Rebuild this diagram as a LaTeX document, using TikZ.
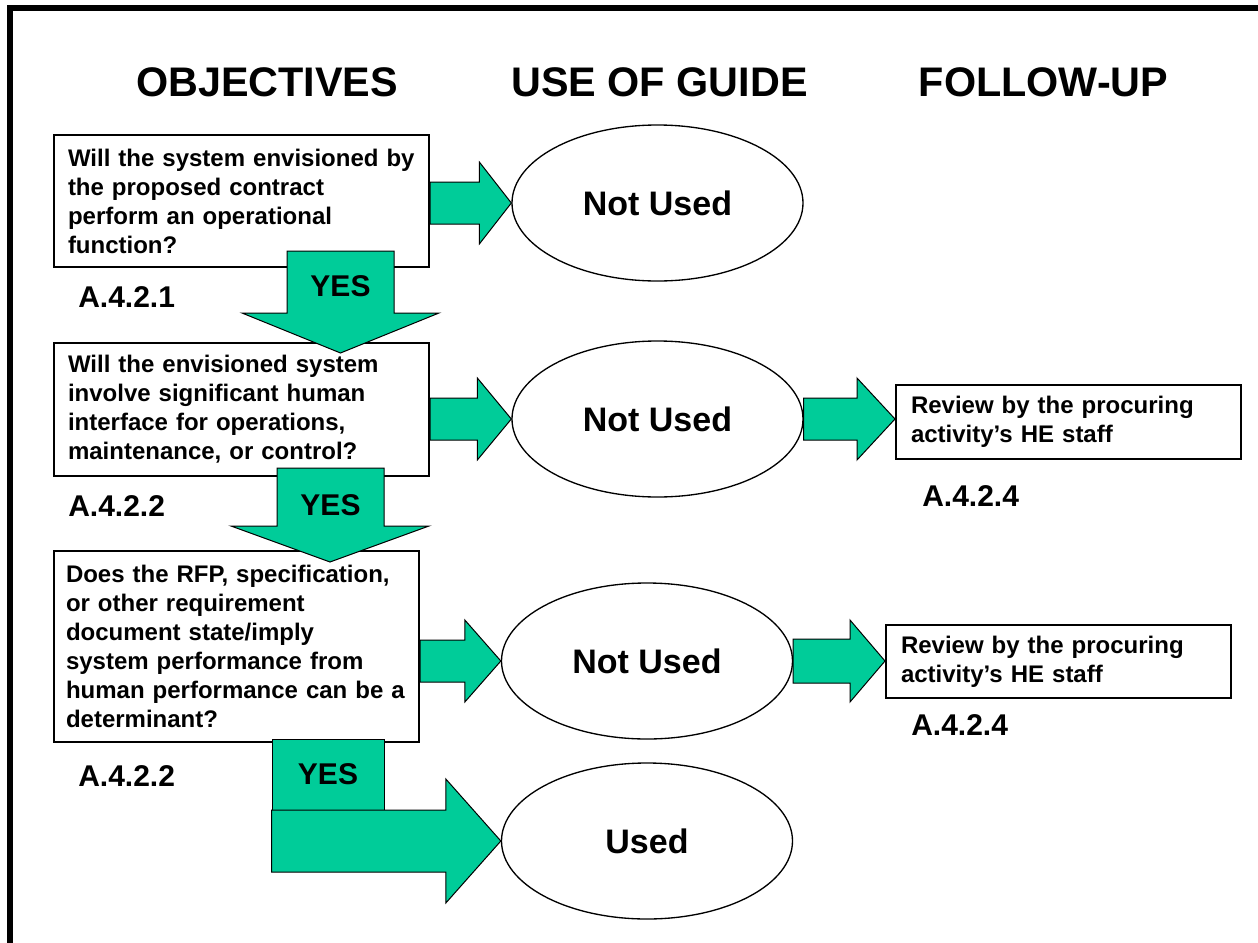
\documentclass[tikz,border=0pt]{standalone}
\usepackage{fontspec}
\setmainfont{Liberation Sans}
\usepackage{tikz}
\usetikzlibrary{calc,shapes.geometric}
\definecolor{ink}{HTML}{000000}
\definecolor{arrowgreen}{HTML}{00CC99}

\tikzset{
  qbox/.style={draw=ink,line width=1.5pt,fill=white,inner xsep=10.5pt,inner ysep=0pt,
               align=left,font=\fontsize{18}{21.75}\selectfont\bfseries},
  reviewbox/.style={qbox,inner xsep=11.25pt,minimum width=258.75pt,text width=236.25pt},
  usebox/.style={ellipse,draw=ink,line width=1pt,fill=white,inner sep=0pt,
                 minimum width=218.25pt,minimum height=117pt,
                 font=\fontsize{25.5}{30}\selectfont\bfseries},
  blockarrow/.style={draw=ink,line width=0.75pt,fill=arrowgreen,line join=miter},
  yestext/.style={inner sep=0pt,font=\fontsize{22.5}{27}\selectfont\bfseries},
  secref/.style={anchor=base west,inner sep=0pt,font=\fontsize{22.5}{27}\selectfont\bfseries},
  colhead/.style={anchor=base,inner sep=0pt,font=\fontsize{31}{37}\selectfont\bfseries}
}

% block arrow: start, tip, shaft half height, head half height, head length
\newcommand{\rightblock}[5]{%
  \path[blockarrow] let \p1=#1, \p2=#2 in
    (\x1,{\y2+#3}) -- ({\x2-#5},{\y2+#3}) -- ({\x2-#5},{\y2+#4}) -- (\p2)
    -- ({\x2-#5},{\y2-#4}) -- ({\x2-#5},{\y2-#3}) -- (\x1,{\y2-#3}) -- cycle;}

\begin{document}
\begin{tikzpicture}[x=0.75pt,y=-0.75pt]
  \useasboundingbox (0,0) rectangle (1258,943);
  \draw[ink,line width=4.5pt] (10,943) -- (10,8) -- (1258,8);

  % column heads
  \node[colhead] (hobj) at (267,96) {OBJECTIVES};
  \node[colhead] (huse) at (659.5,96) {USE OF GUIDE};
  \node[colhead] (hfol) at (1043.5,96) {FOLLOW-UP};

  % objectives
  \node[qbox,minimum width=281.25pt,minimum height=99pt,text width=260.25pt] (q1) at (241.5,201)
    {Will the system envisioned by\\the proposed contract\\perform an operational\\function?};
  \node[qbox,minimum width=281.25pt,minimum height=99.75pt,text width=260.25pt] (q2) at (241.5,409.5)
    {Will the envisioned system\\involve significant human\\interface for operations,\\maintenance, or control?};
  \node[qbox,inner xsep=9pt,minimum width=273.75pt,minimum height=143.25pt,text width=255.75pt] (q3) at (236.5,646.5)
    {Does the RFP, specification,\\or other requirement\\document state/imply\\system performance from\\human performance can be a\\determinant?};

  % use of guide
  \node[usebox] (e1) at (657.5,203) {Not Used};
  \node[usebox] (e2) at (657.5,419) {Not Used};
  \node[usebox] (e3) at (647,661) {Not Used};
  \node[usebox] (e4) at (647,841) {Used};

  % follow-up
  \node[reviewbox,minimum height=55.5pt] (r1) at (1068.5,422)
    {Review by the procuring\\activity’s HE staff};
  \node[reviewbox,minimum height=54.75pt] (r2) at (1058.5,661.5)
    {Review by the procuring\\activity’s HE staff};

  % arrows
  \rightblock{(q1.east)}{(e1.west)}{15.75pt}{30.75pt}{24pt}
  \rightblock{(q2.east)}{(e2.west)}{15.75pt}{30.75pt}{25.5pt}
  \rightblock{(q3.east)}{(e3.west)}{15.75pt}{30.75pt}{27pt}
  \rightblock{(e2.east)}{(r1.west |- e2.east)}{15.75pt}{30.75pt}{28.5pt}
  \rightblock{(e3.east)}{(r2.west |- e3.east)}{16.5pt}{30.75pt}{26.25pt}

  \draw[blockarrow] (287,251) -- (394,251) -- (394,313) -- (439,313) -- (340.5,353)
    -- (242,313) -- (287,313) -- cycle;
  \node[yestext] (yes1) at (340.5,286) {YES};
  \draw[blockarrow] (277,468) -- (384,468) -- (384,526) -- (429,526) -- (330,562)
    -- (231,526) -- (277,526) -- cycle;
  \node[yestext] (yes2) at (330.5,505) {YES};

  \node[blockarrow,yestext,minimum width=84pt,minimum height=53.25pt] (yes3) at (328,774.5) {YES};
  \rightblock{(yes3.south west)}{(e4.west)}{23.25pt}{46.5pt}{41.25pt}

  % section references
  \node[secref] (ref1) at (78,307) {A.4.2.1};
  \node[secref] (ref2) at (68,516) {A.4.2.2};
  \node[secref] (ref3) at (78,786) {A.4.2.2};
  \node[secref] (ref4) at (922,506) {A.4.2.4};
  \node[secref] (ref5) at (911,735) {A.4.2.4};
\end{tikzpicture}
\end{document}
